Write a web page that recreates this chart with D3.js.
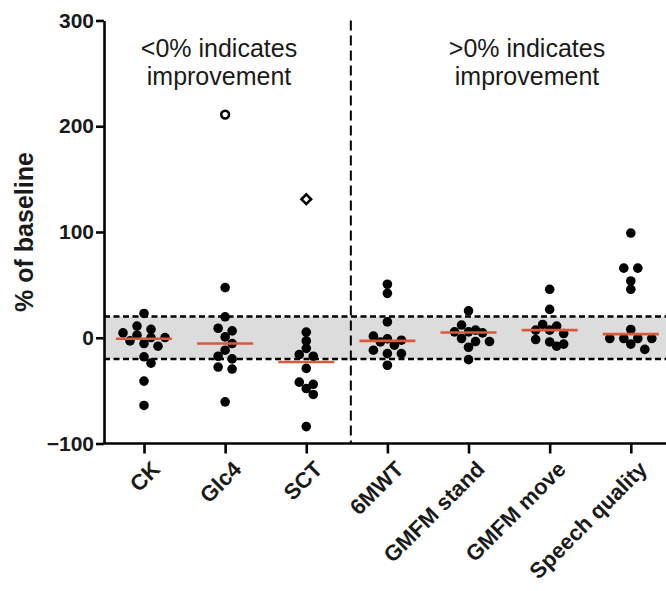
<!DOCTYPE html>
<html>
<head>
<meta charset="utf-8">
<script src="https://cdn.jsdelivr.net/npm/d3@7"></script>
<style>
  html, body { margin: 0; padding: 0; background: #fff; }
  svg { display: block; font-family: "Liberation Sans", Arial, sans-serif; }
</style>
</head>
<body>
<svg id="chart" width="666" height="591"></svg>
<script>
// ---- data ----
const categories = ["CK", "Glc4", "SCT", "6MWT", "GMFM stand", "GMFM move", "Speech quality"];
const ckValues      = [23, 11, 8, 4.6, 2.4, 0.2, 0.2, -3, -5.5, -8, -18, -24, -41, -64];
const glc4Values    = [47.4, 19.8, 9, 6.5, 0.8, -5.5, -11.8, -17.5, -20, -27.7, -29.6, -60.6];
const sctValues     = [5.3, -3, -10, -16, -17.5, -29, -42, -44, -48, -53.6, -84];
const mwtValues     = [50.6, 42, 15, 1.5, -1, -2.3, -4, -7, -11.8, -15, -15, -26];
const standValues   = [25.5, 12, 7.2, 5.6, 5.6, 4.6, -0.7, -3.6, -3.6, -9, -20.7];
const moveValues    = [45.8, 26.8, 12.6, 11, 7.2, 7.2, 4, -1.7, -4, -6, -8];
const speechValues  = [99, 65.8, 65.8, 53.7, 45.8, 7.8, -0.7, -0.7, -0.7, -0.7, -6, -11];
const seriesValues  = [ckValues, glc4Values, sctValues, mwtValues, standValues, moveValues, speechValues];
const medians       = [-1, -5.5, -23, -3, 5, 7.2, 3.4];
const outlierCategories = ["Glc4", "SCT"];
const outlierValues     = [211, 131];
const outlierShapes     = ["circle", "diamond"];
const yTickValues = [-100, 0, 100, 200, 300];
const bandLimits  = [-20, 20];
const annotations = [
  {lines: ["<0% indicates", "improvement"], side: "left"},
  {lines: [">0% indicates", "improvement"], side: "right"}
];
const yLabel = "% of baseline";

// ---- layout ----
const svg = d3.select("#chart");
const plotLeft = 104, plotRight = 666, plotTop = 20.5, plotBottom = 443.5;
const y = d3.scaleLinear().domain([-100, 300]).range([plotBottom, plotTop]);
const x = d3.scalePoint().domain(categories).range([144, 630.8]);
const dotR = 4.8, rowStep = 14, rowH = 5.5, minDist = 7;
const black = "#000";
const textColor = "#1a1a1a";
const medianColor = "#d9593d";

// grey band
svg.append("rect")
  .attr("x", plotLeft).attr("width", plotRight - plotLeft)
  .attr("y", y(bandLimits[1])).attr("height", y(bandLimits[0]) - y(bandLimits[1]))
  .attr("fill", "#dcdcdc");
svg.selectAll("line.band").data(bandLimits).join("line")
  .attr("class", "band")
  .attr("x1", plotLeft).attr("x2", plotRight)
  .attr("y1", d => y(d)).attr("y2", d => y(d))
  .attr("stroke", black).attr("stroke-width", 2.5).attr("stroke-dasharray", "6,3.5");

// vertical divider between SCT and 6MWT
const divX = (x("SCT") + x("6MWT")) / 2 + 4;
svg.append("line")
  .attr("x1", divX).attr("x2", divX).attr("y1", plotTop).attr("y2", plotBottom)
  .attr("stroke", black).attr("stroke-width", 2).attr("stroke-dasharray", "10,5");

// beeswarm-like layout (rows, centered offsets)
function swarm(values) {
  const pts = values.map(v => ({v, py: y(v)})).sort((a, b) => b.v - a.v);
  const rows = [];
  let cur = null;
  pts.forEach(p => {
    if (!cur || p.py - cur.y0 > rowH) { cur = {y0: p.py, pts: []}; rows.push(cur); }
    cur.pts.push(p);
  });
  const placed = [];
  const shifts = [0, 7, -7, 14, -14, 21, -21, 28, -28];
  rows.forEach(row => {
    const n = row.pts.length;
    const base = row.pts.map((p, i) => (i - (n - 1) / 2) * rowStep);
    let chosen = 0;
    for (const s of shifts) {
      const ok = row.pts.every((p, i) => placed.every(q => Math.hypot(base[i] + s - q.dx, p.py - q.py) >= minDist));
      if (ok) { chosen = s; break; }
    }
    row.pts.forEach((p, i) => { p.dx = base[i] + chosen; placed.push(p); });
  });
  return placed;
}

const groups = svg.selectAll("g.cat").data(categories).join("g")
  .attr("class", "cat")
  .attr("transform", d => `translate(${x(d)},0)`);

groups.each(function(cat, i) {
  const g = d3.select(this);
  g.selectAll("circle.dot").data(swarm(seriesValues[i])).join("circle")
    .attr("class", "dot")
    .attr("cx", d => d.dx).attr("cy", d => d.py).attr("r", dotR)
    .attr("fill", black);
  g.append("line")
    .attr("x1", -28).attr("x2", 28)
    .attr("y1", y(medians[i])).attr("y2", y(medians[i]))
    .attr("stroke", medianColor).attr("stroke-width", 2.6);
});

// outliers (open markers)
outlierCategories.forEach((cat, i) => {
  if (outlierShapes[i] === "circle") {
    svg.append("circle")
      .attr("cx", x(cat)).attr("cy", y(outlierValues[i])).attr("r", 3.9)
      .attr("fill", "#fff").attr("stroke", black).attr("stroke-width", 2.6);
  } else {
    svg.append("path")
      .attr("d", d3.symbol(d3.symbolSquare, 46)())
      .attr("transform", `translate(${x(cat)},${y(outlierValues[i])}) rotate(45)`)
      .attr("fill", "#fff").attr("stroke", black).attr("stroke-width", 2.6);
  }
});

// axes
const yAxis = svg.append("g")
  .attr("transform", `translate(${plotLeft},0)`)
  .call(d3.axisLeft(y).tickValues(yTickValues).tickSize(8).tickSizeOuter(0).tickPadding(2));
yAxis.select(".domain").attr("stroke", black).attr("stroke-width", 2.6);
yAxis.selectAll(".tick line").attr("stroke", black).attr("stroke-width", 2.6);
yAxis.selectAll(".tick text")
  .attr("font-size", 21).attr("font-weight", "bold").attr("fill", textColor)
  .attr("font-family", "'Liberation Sans', Arial, sans-serif");

const xAxis = svg.append("g")
  .attr("transform", `translate(0,${plotBottom})`)
  .call(d3.axisBottom(x).tickSize(10).tickSizeOuter(0));
xAxis.select(".domain").remove();
xAxis.append("line")
  .attr("x1", plotLeft - 1.3).attr("x2", plotRight)
  .attr("stroke", black).attr("stroke-width", 2.6);
xAxis.selectAll(".tick line").attr("stroke", black).attr("stroke-width", 2.6);
xAxis.selectAll(".tick text")
  .attr("font-size", 22).attr("font-weight", "bold").attr("fill", textColor)
  .attr("font-family", "'Liberation Sans', Arial, sans-serif")
  .attr("x", 0).attr("y", 0).attr("dy", 0)
  .attr("text-anchor", "end")
  .attr("transform", "translate(17,27) rotate(-45)");

// y label
svg.append("text")
  .attr("transform", `translate(33,${(plotTop + plotBottom) / 2}) rotate(-90)`)
  .attr("text-anchor", "middle")
  .attr("font-size", 25).attr("font-weight", "bold").attr("fill", textColor)
  .text(yLabel);

// annotations
const annX = {left: 219, right: 527};
annotations.forEach(a => {
  const t = svg.append("text")
    .attr("text-anchor", "middle")
    .attr("font-size", 25).attr("fill", textColor);
  a.lines.forEach((line, k) => {
    t.append("tspan").attr("x", annX[a.side]).attr("y", 57 + k * 28).text(line);
  });
});
</script>
</body>
</html>
